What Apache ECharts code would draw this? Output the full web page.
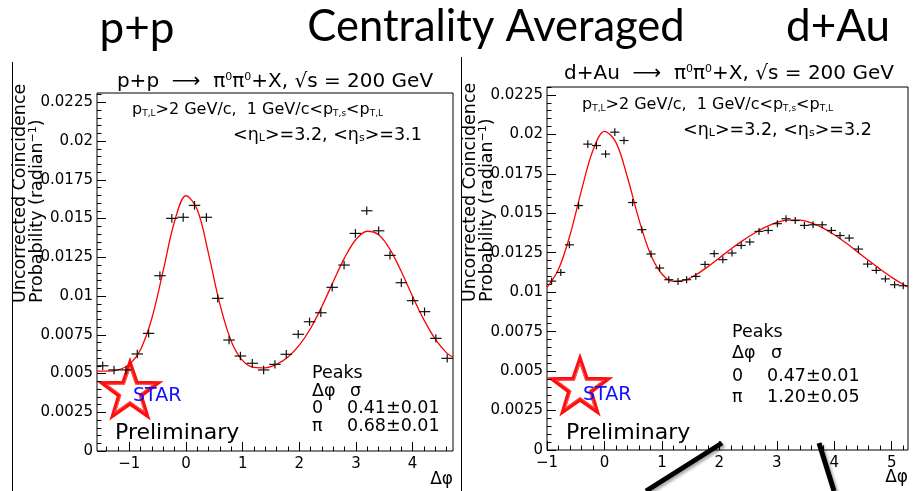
<!DOCTYPE html>
<html><head><meta charset="utf-8">
<script src="https://cdn.jsdelivr.net/npm/echarts@6/dist/echarts.min.js"></script>
<style>html,body{margin:0;padding:0;background:#fff}#c{width:914px;height:491px}</style>
</head><body><div id="c"></div>
<script>
// ---- p+p data ----
const ppX = [-1.47,-1.27,-1.06,-0.86,-0.66,-0.46,-0.25,-0.05,0.15,0.36,0.56,0.76,0.96,1.17,1.37,1.57,1.77,1.98,2.18,2.38,2.58,2.79,2.99,3.19,3.40,3.60,3.80,4.00,4.21,4.41,4.61];
const ppY = [0.00550,0.00523,0.00523,0.00626,0.00759,0.01131,0.01501,0.01508,0.01585,0.01508,0.00985,0.00716,0.00613,0.00566,0.00523,0.00559,0.00624,0.00753,0.00834,0.00892,0.01056,0.01200,0.01404,0.01550,0.01421,0.01262,0.01086,0.00970,0.00899,0.00727,0.00598];
const ppErr = [0.00027,0.00027,0.00027,0.00027,0.00027,0.00027,0.00028,0.00028,0.00028,0.00028,0.00027,0.00027,0.00027,0.00027,0.00027,0.00027,0.00027,0.00027,0.00027,0.00027,0.00027,0.00027,0.00028,0.00028,0.00028,0.00027,0.00027,0.00027,0.00027,0.00027,0.00027];
const ppBinWidth = 0.2027;
const ppFitX = [-1.571,-1.4,-1.2,-1.0,-0.8,-0.6,-0.4,-0.2,0,0.2,0.4,0.6,0.8,1.0,1.2,1.4,1.6,1.8,2.0,2.2,2.4,2.6,2.8,3.0,3.2,3.4,3.6,3.8,4.0,4.2,4.4,4.6,4.712];
const ppFitY = [0.00515,0.00515,0.00523,0.00559,0.00657,0.0086,0.01168,0.01484,0.01647,0.01556,0.01269,0.00944,0.00707,0.00583,0.0054,0.00537,0.0056,0.00607,0.00683,0.00792,0.00934,0.01094,0.01248,0.01365,0.01418,0.01395,0.01301,0.01158,0.00997,0.00846,0.00722,0.00633,0.00605];
const ppXTicks = [-1,0,1,2,3,4];

// ---- d+Au data ----
const dauX = [-0.92,-0.76,-0.61,-0.45,-0.29,-0.14,0.02,0.18,0.34,0.49,0.65,0.81,0.96,1.12,1.28,1.43,1.59,1.75,1.91,2.06,2.22,2.38,2.53,2.69,2.85,3.01,3.16,3.32,3.48,3.63,3.79,3.95,4.10,4.26,4.42,4.58,4.73,4.89,5.05,5.20];
const dauY = [0.01070,0.01125,0.01300,0.01549,0.01938,0.01929,0.01875,0.02014,0.01961,0.01568,0.01396,0.01242,0.01153,0.01079,0.01068,0.01079,0.01100,0.01176,0.01244,0.01206,0.01248,0.01296,0.01318,0.01385,0.01391,0.01434,0.01465,0.01454,0.01423,0.01427,0.01427,0.01391,0.01359,0.01343,0.01273,0.01178,0.01138,0.01084,0.01047,0.01041];
const dauErr = [0.00022,0.00022,0.00022,0.00023,0.00024,0.00024,0.00024,0.00024,0.00024,0.00023,0.00022,0.00022,0.00022,0.00022,0.00022,0.00022,0.00022,0.00022,0.00022,0.00022,0.00022,0.00022,0.00022,0.00022,0.00022,0.00022,0.00022,0.00022,0.00022,0.00022,0.00022,0.00022,0.00022,0.00022,0.00022,0.00022,0.00022,0.00022,0.00022,0.00022];
const dauBinWidth = 0.157;
const dauFitX = [-1.0,-0.8,-0.6,-0.4,-0.2,0,0.2,0.4,0.6,0.8,1.0,1.2,1.4,1.6,1.8,2.0,2.2,2.4,2.6,2.8,3.0,3.2,3.4,3.6,3.8,4.0,4.2,4.4,4.6,4.8,5.0,5.2,5.283];
const dauFitY = [0.0103,0.01145,0.01362,0.01645,0.01899,0.02019,0.01949,0.01728,0.01461,0.01242,0.01115,0.01069,0.01076,0.01112,0.01162,0.01217,0.01274,0.01325,0.01372,0.01412,0.01442,0.01457,0.01457,0.01439,0.01407,0.01364,0.01313,0.01257,0.012,0.01145,0.01094,0.01049,0.01033];
const dauXTicks = [-1,0,1,2,3,4,5];

const yTicks = [0,0.0025,0.005,0.0075,0.01,0.0125,0.015,0.0175,0.02,0.0225];

// ---- helpers (tick positions only) ----
function steps(a, b, s){ const out=[]; for(let k=Math.ceil(a/s-1e-9); k*s<=b+1e-9; k++) out.push(+(k*s).toFixed(6)); return out; }
const F = 'DejaVu Sans';
function crossRender(params, api){
  const x=api.value(0), y=api.value(1), e=api.value(2), hw=api.value(3)/2;
  const l=api.coord([x-hw,y]), r=api.coord([x+hw,y]);
  const t=api.coord([x,y+e]), b=api.coord([x,y-e]);
  return {type:'group', children:[
    {type:'line', shape:{x1:l[0],y1:l[1],x2:r[0],y2:r[1]}, style:{stroke:'#111',lineWidth:1.2}},
    {type:'line', shape:{x1:t[0],y1:t[1],x2:b[0],y2:b[1]}, style:{stroke:'#111',lineWidth:1.2}}
  ]};
}
function majorX(grid, min, max, ticks){
  return {gridIndex:grid, type:'value', min:min, max:max, position:'bottom',
    axisLine:{show:false, onZero:false}, splitLine:{show:false},
    axisTick:{inside:true, length:9, customValues:ticks, lineStyle:{color:'#000',width:1}},
    axisLabel:{customValues:ticks, color:'#000', fontFamily:F, fontSize:15, margin:6,
      formatter:v=>String(v).replace('-', '\u2212')}};
}
function minorX(grid, min, max, vals){
  return {gridIndex:grid, type:'value', min:min, max:max, position:'bottom',
    axisLine:{show:false, onZero:false}, splitLine:{show:false}, axisLabel:{show:false},
    axisTick:{inside:true, length:4.5, customValues:vals, lineStyle:{color:'#000',width:1}}};
}
function majorY(grid, max){
  return {gridIndex:grid, type:'value', min:0, max:max, position:'left',
    axisLine:{show:false, onZero:false}, splitLine:{show:false},
    axisTick:{inside:true, length:9, customValues:yTicks, lineStyle:{color:'#000',width:1}},
    axisLabel:{customValues:yTicks, color:'#000', fontFamily:F, fontSize:15, margin:4}};
}
function minorY(grid, max){
  return {gridIndex:grid, type:'value', min:0, max:max, position:'left', offset:0,
    axisLine:{show:false, onZero:false}, splitLine:{show:false}, axisLabel:{show:false},
    axisTick:{inside:true, length:4.5, customValues:steps(0,max,0.0005), lineStyle:{color:'#000',width:1}}};
}
function txt(x,y,text,size,extra){
  return Object.assign({type:'text', x:x, y:y, silent:true,
    style:Object.assign({text:text, fill:'#000', fontFamily:F, fontSize:size, align:'left', verticalAlign:'middle',
      textAlign:'left', textVerticalAlign:'middle'}, extra||{})});
}
function starPts(cx, cy, R, r, rot){
  const p=[]; for(let i=0;i<10;i++){ const a=-Math.PI/2+rot+i*Math.PI/5; const rr=i%2?r:R; p.push([cx+rr*Math.cos(a), cy+rr*Math.sin(a)]); } return p;
}
const subRich = {s:{fontSize:9, fontFamily:F, verticalAlign:'bottom', fill:'#000'}};
const subRich2 = {s:{fontSize:11, fontFamily:F, verticalAlign:'bottom', fill:'#000'}};
const supRich = {p:{fontSize:11, fontFamily:F, verticalAlign:'top', fill:'#000'}};

const ppMin=-Math.PI/2, ppMax=3*Math.PI/2, dMin=-1, dMax=2*Math.PI-1;

const chart = echarts.init(document.getElementById('c'), null, {renderer:'canvas'});
chart.setOption({
  animation:false,
  backgroundColor:'#fff',
  grid:[
    {left:97, top:93, width:356, height:358, show:true, borderColor:'#000', borderWidth:1, backgroundColor:'transparent'},
    {left:547, top:87, width:361, height:363, show:true, borderColor:'#000', borderWidth:1, backgroundColor:'transparent'}
  ],
  xAxis:[
    majorX(0, ppMin, ppMax, ppXTicks),
    minorX(0, ppMin, ppMax, steps(-1.4, 4.7, 0.2)),
    majorX(1, dMin, dMax, dauXTicks),
    minorX(1, dMin, dMax, steps(-1, 5.28, 0.2))
  ],
  yAxis:[ majorY(0, 0.0231), minorY(0, 0.0231), majorY(1, 0.0230), minorY(1, 0.0230) ],
  series:[
    {type:'line', xAxisIndex:0, yAxisIndex:0, data:ppFitX.map((x,i)=>[x,ppFitY[i]]), smooth:0.35, showSymbol:false,
      lineStyle:{color:'#ff0000', width:1.3}, z:3},
    {type:'custom', xAxisIndex:0, yAxisIndex:0, renderItem:crossRender, z:4,
      data:ppX.map((x,i)=>[x,ppY[i],ppErr[i],ppBinWidth])},
    {type:'line', xAxisIndex:2, yAxisIndex:2, data:dauFitX.map((x,i)=>[x,dauFitY[i]]), smooth:0.35, showSymbol:false,
      lineStyle:{color:'#ff0000', width:1.3}, z:3},
    {type:'custom', xAxisIndex:2, yAxisIndex:2, renderItem:crossRender, z:4,
      data:dauX.map((x,i)=>[x,dauY[i],dauErr[i],dauBinWidth])}
  ],
  graphic:[
    // slide titles
    txt(137,29,'p+p',44,{fontFamily:'Lato', align:'center', textAlign:'center'}),
    txt(496,27,'Centrality Averaged',43.5,{fontFamily:'Lato', align:'center', textAlign:'center'}),
    txt(838,27,'d+Au',44,{fontFamily:'Lato', align:'center', textAlign:'center'}),
    // panel separators
    {type:'line', shape:{x1:12.5,y1:62,x2:12.5,y2:491}, style:{stroke:'#000',lineWidth:1}},
    {type:'line', shape:{x1:461.5,y1:57,x2:461.5,y2:491}, style:{stroke:'#000',lineWidth:1}},
    // pad titles
    txt(275,82,'p+p  \u27f6  \u03c0{p|0}\u03c0{p|0}+X, \u221as = 200 GeV',20,{align:'center', textAlign:'center', rich:supRich}),
    txt(729,74,'d+Au  \u27f6  \u03c0{p|0}\u03c0{p|0}+X, \u221as = 200 GeV',20,{align:'center', textAlign:'center', rich:supRich}),
    // cuts text
    txt(132,110,'p{s|T,L}>2 GeV/c,  1 GeV/c<p{s|T,s}<p{s|T,L}',16,{rich:subRich}),
    txt(233,135,'<\u03b7{s|L}>=3.2, <\u03b7{s|s}>=3.1',17.5,{rich:subRich2}),
    txt(582,105,'p{s|T,L}>2 GeV/c,  1 GeV/c<p{s|T,s}<p{s|T,L}',16,{rich:subRich}),
    txt(683,130,'<\u03b7{s|L}>=3.2, <\u03b7{s|s}>=3.2',17.5,{rich:subRich2}),
    // y titles
    Object.assign(txt(20,303,'Uncorrected Coincidence',17.5),{rotation:Math.PI/2}),
    Object.assign(txt(37,303,'Probability (radian{p|\u22121})',17.5,{rich:supRich}),{rotation:Math.PI/2}),
    Object.assign(txt(470,302,'Uncorrected Coincidence',17.5),{rotation:Math.PI/2}),
    Object.assign(txt(487,302,'Probability (radian{p|\u22121})',17.5,{rich:supRich}),{rotation:Math.PI/2}),
    // x titles
    txt(453,480,'\u0394\u03c6',17,{align:'right', textAlign:'right'}),
    txt(908,478,'\u0394\u03c6',17,{align:'right', textAlign:'right'}),
    // peaks left
    txt(312,373,'Peaks',17.5),
    txt(312,391,'\u0394\u03c6',17.5), txt(350,391,'\u03c3',17.5),
    txt(312,408,'0',17.5), txt(347,408,'0.41\u00b10.01',17.5),
    txt(312,426,'\u03c0',17.5), txt(347,426,'0.68\u00b10.01',17.5),
    // peaks right
    txt(732,332,'Peaks',17.5),
    txt(732,353,'\u0394\u03c6',17.5), txt(771,353,'\u03c3',17.5),
    txt(732,376,'0',17.5), txt(767,376,'0.47\u00b10.01',17.5),
    txt(732,397,'\u03c0',17.5), txt(767,397,'1.20\u00b10.05',17.5),
    // STAR logos
    {type:'polygon', shape:{points:starPts(130,392,29,11.5,0)}, style:{fill:'none', stroke:'#ff1010', lineWidth:4}},
    {type:'polygon', shape:{points:starPts(130,392,25,9.5,0)}, style:{fill:'none', stroke:'#ff6060', lineWidth:1}},
    {type:'polygon', shape:{points:starPts(580,388,29,11.5,0)}, style:{fill:'none', stroke:'#ff1010', lineWidth:4}},
    {type:'polygon', shape:{points:starPts(580,388,25,9.5,0)}, style:{fill:'none', stroke:'#ff6060', lineWidth:1}},
    txt(133,396,'STAR',19,{fill:'#1010ff'}),
    txt(583,395,'STAR',19,{fill:'#1010ff'}),
    txt(115,433,'Preliminary',22),
    txt(566,433,'Preliminary',22),
    // slide annotation strokes
    {type:'line', shape:{x1:646,y1:491,x2:722,y2:443}, style:{stroke:'#000',lineWidth:5, shadowBlur:3, shadowColor:'rgba(0,0,0,0.35)', shadowOffsetX:2, shadowOffsetY:2}},
    {type:'line', shape:{x1:819,y1:443,x2:834,y2:491}, style:{stroke:'#000',lineWidth:5, shadowBlur:3, shadowColor:'rgba(0,0,0,0.35)', shadowOffsetX:2, shadowOffsetY:2}}
  ]
});
</script></body></html>
